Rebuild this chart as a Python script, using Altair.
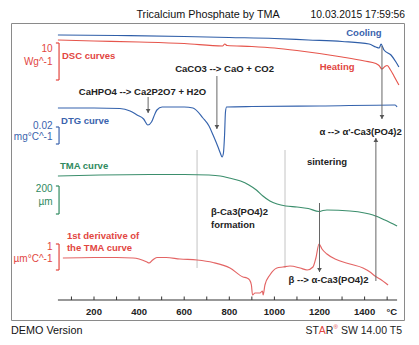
import altair as alt
import pandas as pd

# ---------------- data ----------------
# temperatures in °C, vertical positions in picture units (downwards)
COOL_T = [40, 300, 600, 800, 1000, 1150, 1300, 1420, 1450, 1465, 1473, 1480, 1486, 1517, 1539, 1552]
COOL_Y = [35, 35.5, 36.5, 37.5, 38.5, 40, 41.5, 44, 47, 48, 44, 47, 50, 55, 62, 67]

HEAT_T = [40, 200, 400, 600, 770, 780, 790, 900, 1000, 1100, 1200, 1300, 1400, 1450, 1464, 1477, 1490, 1500, 1515, 1530, 1552]
HEAT_Y = [40, 41, 42, 43.5, 46, 44, 45.5, 46.5, 48, 50.5, 53.5, 57, 61, 63.5, 65.5, 69, 66.5, 65.5, 70, 76, 85]

DTG_T = [40, 200, 315, 360, 391, 420, 439, 455, 470, 479, 502, 600, 639, 683, 710, 728, 750, 760, 768, 774, 779, 783, 788, 900, 1200, 1535, 1544]
DTG_Y = [108, 108, 108.5, 111, 115, 119, 125, 122, 114, 110, 107, 107, 108, 118, 126, 135, 147, 153, 157, 153, 135, 112, 107, 106.5, 106, 105, 107]

TMA_T = [40, 227, 448, 600, 710, 760, 799, 850, 887, 920, 949, 980, 1012, 1050, 1100, 1150, 1198, 1215, 1233, 1335, 1400, 1437, 1490, 1544]
TMA_Y = [176, 175, 174.5, 174.5, 175, 176, 178, 181, 185, 190, 196, 201, 204, 206, 207, 208.5, 211.5, 210.5, 210, 211, 213, 215, 220, 226]

DER_T = [62, 200, 300, 373, 400, 435, 444, 460, 479, 520, 581, 657, 728, 803, 861, 878, 890, 898, 903, 914, 936, 947, 950, 958, 980, 1011, 1038, 1069, 1114, 1145, 1171, 1184, 1198, 1211, 1233, 1269, 1335, 1393, 1424, 1446, 1468, 1504]
DER_Y = [258, 257.5, 257.5, 258, 259, 262, 263, 260, 257.5, 257.5, 259, 260, 262.5, 268, 277, 278, 280, 285, 295, 293, 293, 291, 295, 285, 275, 268, 267, 266, 268, 270, 267, 258, 244, 249, 254, 259, 264, 268, 272, 276, 279, 285]

TICKS = [100, 200, 300, 400, 500, 600, 700, 800, 900, 1000, 1100, 1200, 1300, 1400, 1500]
TICK_LABELS = [200, 400, 600, 800, 1000, 1200, 1400]

# scale brackets: top, bottom, labels
BR_TOP = [43, 127, 186, 244]
BR_BOT = [80, 144, 214, 270]
BR_VAL = ["10", "0.02", "200", "1"]
BR_UNIT = ["Wg^-1", "mg°C^-1", "µm", "µm°C^-1"]
BR_COLOR = ["#e2463f", "#3a63ad", "#2f8a60", "#e2463f"]

# annotation arrows: temperature, start, end
ARROW_T = [440, 745, 1477, 1200, 1450]
ARROW_Y0 = [97, 76, 46, 203, 281]
ARROW_Y1 = [113, 129, 119, 272, 138]
ARROW_DIR = ["down", "down", "down", "down", "up"]

GUIDE_T = [657, 1047]

RED = "#e2463f"
BLUE = "#3a63ad"
GREEN = "#2f8a60"
FONT = "Liberation Sans"

xs = alt.Scale(domain=[-168.07, 1574.7], nice=False, zero=False)
ys = alt.Scale(domain=[320, 23], nice=False, zero=False)


def curve(T, Y, color, width=1.15):
    df = pd.DataFrame({"T": T, "y": Y})
    return alt.Chart(df).mark_line(color=color, strokeWidth=width, interpolate="monotone").encode(
        x=alt.X("T:Q", scale=xs, axis=None), y=alt.Y("y:Q", scale=ys, axis=None), order="T:Q")


def texts(rows, align="left", size=9.5, weight="bold", color="#222"):
    df = pd.DataFrame(rows, columns=["T", "y", "text"])
    return alt.Chart(df).mark_text(align=align, baseline="middle", fontSize=size, fontWeight=weight,
                                   font=FONT, color=color).encode(
        x=alt.X("T:Q", scale=xs, axis=None), y=alt.Y("y:Q", scale=ys, axis=None), text="text:N")


layers = []

# light guide lines
gdf = pd.DataFrame({"T": GUIDE_T, "y": [150] * len(GUIDE_T), "y2": [268] * len(GUIDE_T)})
layers.append(alt.Chart(gdf).mark_rule(color="#c4c4c4", strokeWidth=1).encode(
    x=alt.X("T:Q", scale=xs, axis=None), y=alt.Y("y:Q", scale=ys, axis=None), y2="y2:Q"))

# curves
layers.append(curve(COOL_T, COOL_Y, "#2f5ea8"))
layers.append(curve(HEAT_T, HEAT_Y, "#e6554c"))
layers.append(curve(DTG_T, DTG_Y, "#3563ad"))
layers.append(curve(TMA_T, TMA_Y, "#3b8e6c"))
layers.append(curve(DER_T, DER_Y, "#e36464"))

# arrows
adf = pd.DataFrame({"T": ARROW_T, "y": ARROW_Y0, "y2": ARROW_Y1, "dir": ARROW_DIR})
layers.append(alt.Chart(adf).mark_rule(color="#666", strokeWidth=1).encode(
    x=alt.X("T:Q", scale=xs, axis=None), y=alt.Y("y:Q", scale=ys, axis=None), y2="y2:Q"))
down = adf[adf["dir"] == "down"].assign(yh=lambda d: d["y2"] - 2)
up = adf[adf["dir"] == "up"].assign(yh=lambda d: d["y2"] + 2)
layers.append(alt.Chart(down).mark_point(shape="triangle-down", filled=True, size=22, color="#555", opacity=1).encode(
    x=alt.X("T:Q", scale=xs, axis=None), y=alt.Y("yh:Q", scale=ys, axis=None)))
layers.append(alt.Chart(up).mark_point(shape="triangle-up", filled=True, size=22, color="#555", opacity=1).encode(
    x=alt.X("T:Q", scale=xs, axis=None), y=alt.Y("yh:Q", scale=ys, axis=None)))

# brackets
bdf = pd.DataFrame({"T": [45] * 4, "Tl": [31] * 4, "top": BR_TOP, "bot": BR_BOT, "c": BR_COLOR})
layers.append(alt.Chart(bdf).mark_rule(strokeWidth=1.2).encode(
    x=alt.X("T:Q", scale=xs, axis=None), y=alt.Y("top:Q", scale=ys, axis=None), y2="bot:Q",
    color=alt.Color("c:N", scale=None)))
layers.append(alt.Chart(bdf).mark_rule(strokeWidth=1.2).encode(
    x=alt.X("Tl:Q", scale=xs, axis=None), x2="T:Q", y=alt.Y("top:Q", scale=ys, axis=None),
    color=alt.Color("c:N", scale=None)))
layers.append(alt.Chart(bdf).mark_rule(strokeWidth=1.2).encode(
    x=alt.X("Tl:Q", scale=xs, axis=None), x2="T:Q", y=alt.Y("bot:Q", scale=ys, axis=None),
    color=alt.Color("c:N", scale=None)))
ldf = pd.DataFrame({"T": [16] * 8, "y": [49, 126, 189, 247, 62, 137, 202, 259],
                    "text": BR_VAL + BR_UNIT, "c": BR_COLOR + BR_COLOR})
layers.append(alt.Chart(ldf).mark_text(align="right", baseline="middle", fontSize=10, font=FONT).encode(
    x=alt.X("T:Q", scale=xs, axis=None), y=alt.Y("y:Q", scale=ys, axis=None), text="text:N",
    color=alt.Color("c:N", scale=None)))

# x axis drawn from data
axdf = pd.DataFrame({"T": [40], "T2": [1544], "y": [300]})
layers.append(alt.Chart(axdf).mark_rule(color="#333", strokeWidth=1.2).encode(
    x=alt.X("T:Q", scale=xs, axis=None), x2="T2:Q", y=alt.Y("y:Q", scale=ys, axis=None)))
tdf = pd.DataFrame({"T": TICKS, "y": [296.5] * len(TICKS), "y2": [300] * len(TICKS)})
layers.append(alt.Chart(tdf).mark_rule(color="#333", strokeWidth=1).encode(
    x=alt.X("T:Q", scale=xs, axis=None), y=alt.Y("y:Q", scale=ys, axis=None), y2="y2:Q"))
layers.append(texts([(t, 312, str(t)) for t in TICK_LABELS] + [(1521, 312, "°C")], align="center", size=9.5))

# curve labels
layers.append(texts([(58, 56, "DSC curves"), (80, 236, "1st derivative of"), (80, 248, "the TMA curve")], color=RED))
layers.append(texts([(1278, 67, "Heating")], align="center", color=RED))
layers.append(texts([(1397, 33, "Cooling")], align="center", color=BLUE))
layers.append(texts([(54, 121, "DTG curve")], color=BLUE))
layers.append(texts([(49, 166, "TMA curve")], color=GREEN))

# annotations
layers.append(texts([(415, 92, "CaHPO4 --> Ca2P2O7 + H2O"), (779, 69, "CaCO3 --> CaO + CO2"),
                     (1233, 162, "sintering"), (1382, 132, "α --> α'-Ca3(PO4)2"),
                     (1240, 280, "β --> α-Ca3(PO4)2")], align="center"))
layers.append(texts([(719, 212, "β-Ca3(PO4)2"), (719, 225, "formation")]))

# header / footer
layers.append(texts([(706, 15, "Tricalcium Phosphate by TMA")], align="center", size=10.8, weight="normal", color="#111"))
layers.append(texts([(1579.5, 15, "10.03.2015 17:59:56")], align="right", size=10.3, weight="normal", color="#111"))
layers.append(texts([(-168, 331, "DEMO Version")], size=10.8, weight="normal", color="#111"))
layers.append(texts([(-168, 331, "ST")], size=10.5, weight="normal", color="#222").encode(
    x=alt.value(305.4 - 11)))
layers.append(texts([(-168, 331, "A")], size=10.5, weight="normal", color=RED).encode(x=alt.value(318.8 - 11)))
layers.append(texts([(-168, 331, "R")], size=10.5, weight="normal", color="#222").encode(x=alt.value(325.8 - 11)))
layers.append(texts([(-168, 327, "®")], size=6, weight="normal", color=RED).encode(x=alt.value(333.5 - 11)))
layers.append(texts([(1566, 331, "SW 14.00 T5")], align="right", size=10.5, weight="normal", color="#222"))

chart = alt.layer(*layers).properties(
    width=393, height=297,
    padding={"left": 11, "top": 23, "right": 15, "bottom": 25},
    autosize=alt.AutoSizeParams(type="none"),
    background="white",
).configure_view(stroke="#8a8a8a", strokeWidth=1)

chart.save("out.html", embed_options={"renderer": "svg", "actions": False})
